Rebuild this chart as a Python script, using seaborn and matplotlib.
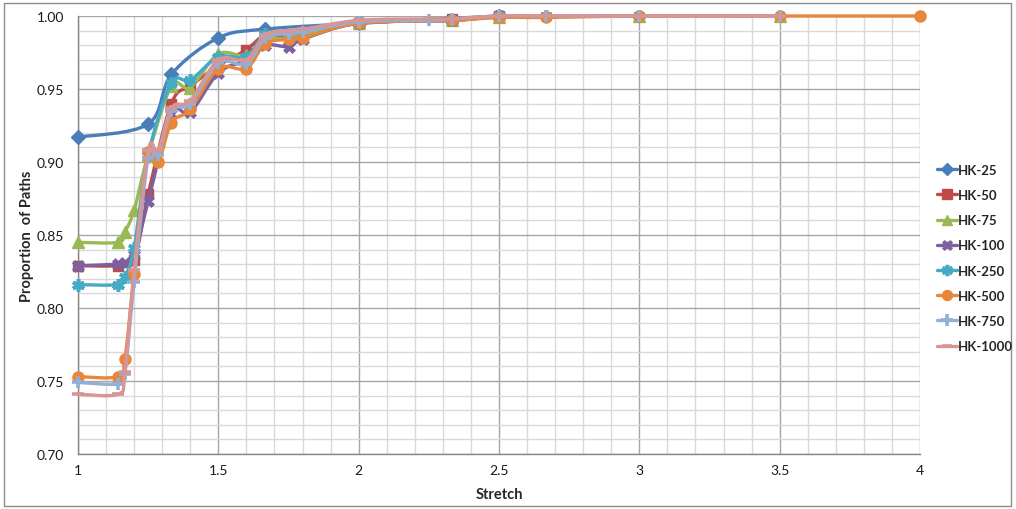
import numpy as np
import matplotlib
matplotlib.use("Agg")
import matplotlib.pyplot as plt
from matplotlib.path import Path
from matplotlib.patches import PathPatch, Rectangle
from matplotlib.lines import Line2D
from matplotlib.ticker import MultipleLocator, FormatStrFormatter
import seaborn as sns

# Stretch values and proportion of paths for each graph size
hk25_x = [1, 1.25, 1.333, 1.5, 1.667, 2, 2.5]
hk25_y = [0.917, 0.926, 0.960, 0.985, 0.991, 0.995, 1.0]

hk50_x = [1, 1.143, 1.2, 1.25, 1.333, 1.4, 1.5, 1.6, 1.667, 1.75, 2, 2.333, 2.5]
hk50_y = [0.829, 0.829, 0.833, 0.878, 0.940, 0.952, 0.966, 0.977, 0.987, 0.987, 0.995, 0.998, 1.0]

hk75_x = [1, 1.143, 1.167, 1.2, 1.25, 1.333, 1.4, 1.5, 1.6, 1.667, 1.75, 2, 2.333, 2.5, 3, 3.5]
hk75_y = [0.845, 0.845, 0.852, 0.867, 0.905, 0.952, 0.951, 0.974, 0.973, 0.985, 0.985, 0.995, 0.997, 0.999, 1.0, 1.0]

hk100_x = [1, 1.143, 1.167, 1.2, 1.25, 1.333, 1.4, 1.5, 1.6, 1.667, 1.75, 1.8, 2, 2.333, 2.5]
hk100_y = [0.829, 0.830, 0.831, 0.836, 0.873, 0.933, 0.934, 0.961, 0.970, 0.980, 0.979, 0.984, 0.995, 0.997, 1.0]

hk250_x = [1, 1.143, 1.167, 1.2, 1.25, 1.333, 1.4, 1.5, 1.6, 1.667, 1.75, 2, 2.333, 2.5, 2.667, 3]
hk250_y = [0.816, 0.816, 0.821, 0.841, 0.905, 0.954, 0.956, 0.972, 0.972, 0.988, 0.988, 0.996, 0.997, 1.0, 1.0, 1.0]

hk500_x = [1, 1.143, 1.167, 1.2, 1.25, 1.286, 1.333, 1.4, 1.5, 1.6, 1.667, 1.75, 1.8, 2, 2.333, 2.5, 2.667, 3, 3.5, 4]
hk500_y = [0.753, 0.753, 0.765, 0.823, 0.907, 0.900, 0.927, 0.936, 0.964, 0.964, 0.981, 0.984, 0.985, 0.995, 0.997, 0.999, 0.999, 1.0, 1.0, 1.0]

hk750_x = [1, 1.143, 1.167, 1.2, 1.25, 1.286, 1.333, 1.4, 1.5, 1.6, 1.667, 1.75, 1.8, 2, 2.25, 2.333, 2.5, 2.667, 3, 3.5]
hk750_y = [0.749, 0.748, 0.755, 0.818, 0.903, 0.905, 0.935, 0.940, 0.968, 0.967, 0.985, 0.988, 0.989, 0.996, 0.997, 0.998, 1.0, 1.0, 1.0, 1.0]

hk1000_x = [1, 1.143, 1.167, 1.2, 1.25, 1.286, 1.333, 1.4, 1.5, 1.6, 1.667, 1.75, 1.8, 2, 2.25, 2.333, 2.5, 2.667, 3, 3.5]
hk1000_y = [0.741, 0.741, 0.756, 0.826, 0.908, 0.908, 0.937, 0.942, 0.970, 0.970, 0.987, 0.990, 0.991, 0.997, 0.998, 0.998, 1.0, 1.0, 1.0, 1.0]

series_names = ["HK-25", "HK-50", "HK-75", "HK-100", "HK-250", "HK-500", "HK-750", "HK-1000"]
series_x = [hk25_x, hk50_x, hk75_x, hk100_x, hk250_x, hk500_x, hk750_x, hk1000_x]
series_y = [hk25_y, hk50_y, hk75_y, hk100_y, hk250_y, hk500_y, hk750_y, hk1000_y]

x_ticks = [1, 1.5, 2, 2.5, 3, 3.5, 4]
y_ticks = [0.70, 0.75, 0.80, 0.85, 0.90, 0.95, 1.00]

colors = ["#4A7EBB", "#BE4B48", "#98B954", "#7D60A0", "#46AAC5", "#E8863A", "#94AFD6", "#D89593"]
# marker, size, edge width
markers = [("D", 7, 1.0), ("s", 7.5, 1.0), ("^", 8, 1.0), ("X", 8.5, 0.5),
           ((6, 2, 0), 9, 2.6), ("o", 8, 1.0), ("+", 9, 2.6), ("_", 8, 2.6)]

sns.set_style("white")
plt.rcParams["font.family"] = ["Lato", "DejaVu Sans"]

fig = plt.figure(figsize=(10.16, 5.10), dpi=100)
W, H = 1016, 510
ax = fig.add_axes([78 / W, 1 - 455 / H, (920 - 78) / W, (455 - 17) / H])

ax.set_xlim(1, 4)
ax.set_ylim(0.70, 1.00)
ax.xaxis.set_major_locator(MultipleLocator(0.5))
ax.xaxis.set_minor_locator(MultipleLocator(0.1))
ax.yaxis.set_major_locator(MultipleLocator(0.05))
ax.yaxis.set_minor_locator(MultipleLocator(0.01))
ax.set_xticks(x_ticks)
ax.set_yticks(y_ticks)
ax.yaxis.set_major_formatter(FormatStrFormatter("%.2f"))
ax.set_xticklabels([f"{t:g}" for t in x_ticks])

ax.grid(which="major", color="#A6A6A6", linewidth=1.0, zorder=0)
ax.grid(which="minor", color="#D9D9D9", linewidth=1.0, zorder=0)
ax.set_axisbelow(True)
for side in ["top", "right"]:
    ax.spines[side].set_visible(False)
for side in ["left", "bottom"]:
    ax.spines[side].set_color("#868686")
    ax.spines[side].set_linewidth(1.0)
ax.tick_params(axis="both", which="major", direction="out", length=4, width=1,
               color="#868686", labelsize=10, labelcolor="#1a1a1a", pad=3)
ax.tick_params(axis="both", which="minor", length=0)
ax.tick_params(axis="y", pad=6)


def smooth_path(xs, ys):
    """Cardinal-spline Bezier path passing through every data point."""
    pts = np.column_stack([xs, ys]).astype(float)
    n = len(pts)
    verts = [pts[0]]
    codes = [Path.MOVETO]
    for i in range(n - 1):
        p0 = pts[i - 1] if i > 0 else pts[i]
        p1 = pts[i]
        p2 = pts[i + 1]
        p3 = pts[i + 2] if i + 2 < n else pts[i + 1]
        verts += [p1 + (p2 - p0) / 6.0, p2 - (p3 - p1) / 6.0, p2]
        codes += [Path.CURVE4] * 3
    return Path(verts, codes)


handles = []
for k, (name, xs, ys) in enumerate(zip(series_names, series_x, series_y)):
    c = colors[k]
    m, ms, mew = markers[k]
    patch = PathPatch(smooth_path(xs, ys), facecolor="none", edgecolor=c,
                      linewidth=2.4, capstyle="round", joinstyle="round",
                      zorder=3 + 2 * k, clip_on=False)
    ax.add_patch(patch)
    sns.lineplot(x=xs, y=ys, ax=ax, color=c, marker=m, markersize=ms,
                 markeredgewidth=mew, markeredgecolor=c, markerfacecolor=c,
                 linestyle="none", sort=False, estimator=None,
                 zorder=4 + 2 * k, clip_on=False, legend=False)
    handles.append(Line2D([0], [0], color=c, linewidth=2.4, marker=m,
                          markersize=ms * 0.9, markeredgewidth=mew,
                          markeredgecolor=c, markerfacecolor=c, label=name))

ax.set_xlabel("Stretch", fontsize=10.5, fontweight="bold", labelpad=8)
ax.set_ylabel("Proportion  of Paths", fontsize=10.5, fontweight="bold", labelpad=2)

fig.legend(handles=handles, loc="center left",
           bbox_to_anchor=(937 / W, 1 - 259 / H), frameon=False,
           prop={"weight": "bold", "size": 9.5}, labelspacing=1.0,
           handlelength=1.5, handletextpad=0.1, borderpad=0, borderaxespad=0)

# chart area border
fig.patches.append(Rectangle((4 / W, 3 / H), 1007 / W, 503 / H,
                             transform=fig.transFigure, fill=False,
                             edgecolor="#8C8C8C", linewidth=1.0))

fig.savefig("out.png", dpi=100)
